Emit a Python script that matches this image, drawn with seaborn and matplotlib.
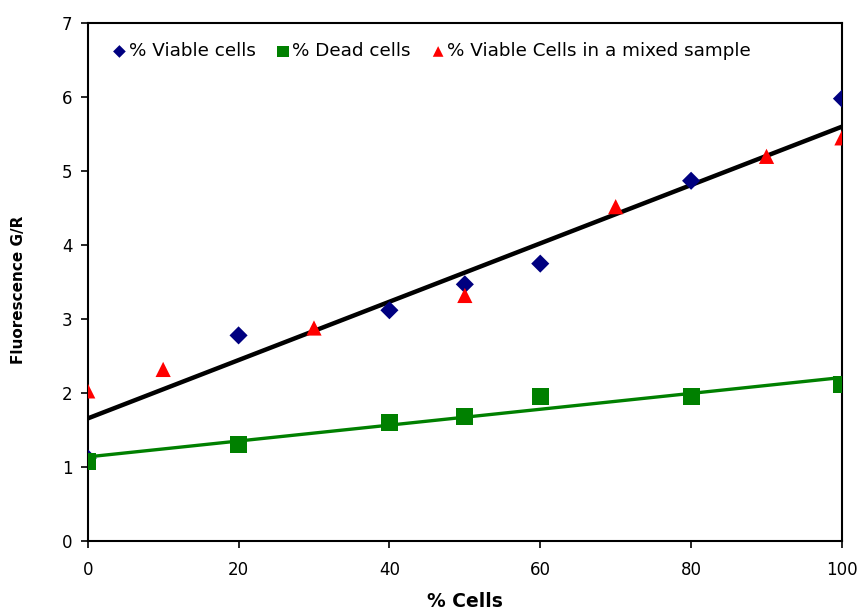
import numpy as np
import pandas as pd
import matplotlib
matplotlib.use("Agg")
import matplotlib.pyplot as plt
import seaborn as sns

# valores
viable_x = [0, 20, 40, 50, 60, 80, 100]
viable_y = [1.12, 2.78, 3.12, 3.47, 3.75, 4.87, 5.98]

dead_x = [0, 20, 40, 50, 60, 80, 100]
dead_y = [1.08, 1.31, 1.60, 1.69, 1.96, 1.96, 2.12]

mixed_x = [0, 10, 30, 50, 70, 90, 100]
mixed_y = [2.03, 2.32, 2.88, 3.32, 4.52, 5.20, 5.45]

df_viable = pd.DataFrame({'x': viable_x, 'y': viable_y})
df_dead = pd.DataFrame({'x': dead_x, 'y': dead_y})
df_mixed = pd.DataFrame({'x': mixed_x, 'y': mixed_y})
# linha preta: ajuste sobre viáveis + amostra mista
df_all = pd.concat([df_viable, df_mixed], ignore_index=True)

sns.set_style('ticks')
plt.rcParams['font.family'] = ['DejaVu Sans']
plt.rcParams['text.color'] = 'black'
plt.rcParams['axes.labelcolor'] = 'black'

fig = plt.figure(figsize=(8.6, 6.1), dpi=100)
ax = fig.add_axes([0.102, 0.113, 0.877, 0.849])

sns.regplot(data=df_all, x='x', y='y', ax=ax, scatter=False, ci=None,
            color='black', line_kws={'lw': 3.2, 'zorder': 2})
sns.regplot(data=df_dead, x='x', y='y', ax=ax, scatter=False, ci=None,
            color='#008000', line_kws={'lw': 2.4, 'zorder': 2})

sns.scatterplot(data=df_viable, x='x', y='y', ax=ax, marker='D', s=85,
                color='#000080', edgecolor='none', label='% Viable cells', zorder=3)
sns.scatterplot(data=df_dead, x='x', y='y', ax=ax, marker='s', s=150,
                color='#008000', edgecolor='none', label='% Dead cells', zorder=4)
sns.scatterplot(data=df_mixed, x='x', y='y', ax=ax, marker='^', s=120,
                color='#FF0000', edgecolor='none', label='% Viable Cells in a mixed sample', zorder=3)

ax.set_xlim(0, 100)
ax.set_ylim(0, 7)
ax.set_xticks(range(0, 101, 20))
ax.set_yticks(range(0, 8))
ax.tick_params(axis='both', labelsize=12, direction='out', length=5, width=1.2,
               colors='black', pad=6)
ax.tick_params(axis='x', pad=9)
for sp in ax.spines.values():
    sp.set_visible(True)
    sp.set_color('black')
    sp.set_linewidth(1.5)

ax.set_xlabel('% Cells', fontsize=13.5, fontweight='bold', labelpad=10)
ax.set_ylabel('Fluorescence G/R', fontsize=11, fontweight='bold')
ax.yaxis.set_label_coords(-0.082, 0.485)

leg = ax.legend(loc='upper left', ncol=3, frameon=False, fontsize=13.2,
                handletextpad=0.0, columnspacing=1.0, handlelength=1.0,
                markerscale=0.7, bbox_to_anchor=(0.008, 0.995))

fig.savefig('out.png', dpi=100)
